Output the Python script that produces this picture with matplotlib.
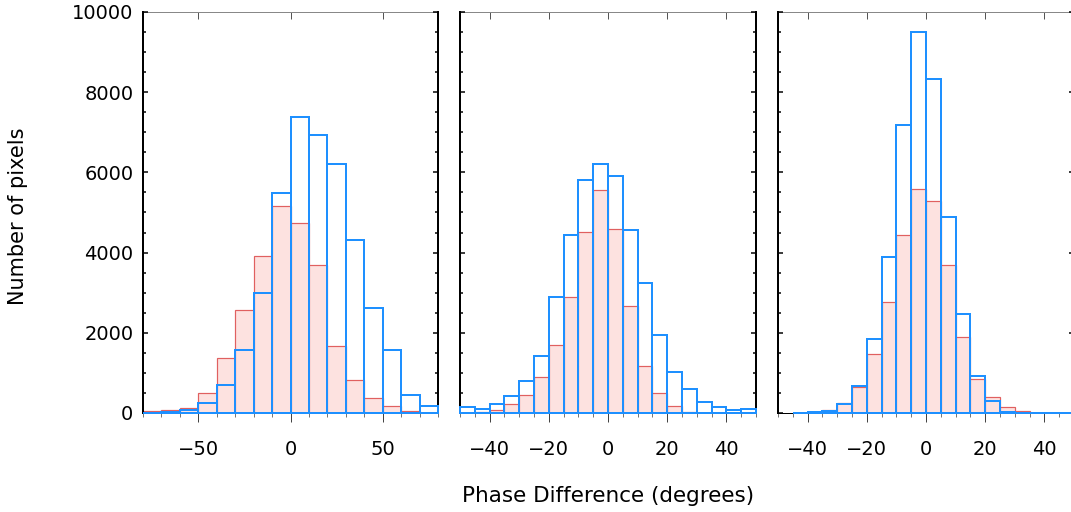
import numpy as np
import matplotlib
matplotlib.use("Agg")
import matplotlib.pyplot as plt
from matplotlib.ticker import MultipleLocator

# panel 1: bins of 10 deg from -80 to 80
edges1 = np.arange(-80, 81, 10)
red1 = [40, 80, 125, 490, 1370, 2570, 3920, 5170, 4750, 3690, 1670, 820, 370, 180, 50, 10]
blue1 = [10, 20, 80, 240, 690, 1570, 2990, 5490, 7370, 6940, 6210, 4310, 2620, 1570, 460, 170]

# panel 2: bins of 5 deg from -50 to 50
edges2 = np.arange(-50, 51, 5)
red2 = [10, 20, 75, 215, 450, 900, 1700, 2890, 4525, 5550,
        4590, 2660, 1170, 500, 180, 32, 10, 0, 0, 0]
blue2 = [157, 100, 225, 415, 800, 1425, 2890, 4430, 5800, 6220,
         5910, 4570, 3230, 1950, 1025, 607, 282, 157, 65, 90]

# panel 3: bins of 5 deg from -45 to 50
edges3 = np.arange(-45, 51, 5)
red3 = [10, 20, 75, 240, 640, 1480, 2780, 4430, 5590,
        5275, 3680, 1900, 850, 390, 157, 40, 10, 0, 0]
blue3 = [10, 20, 40, 225, 665, 1840, 3900, 7180, 9500,
         8330, 4880, 2475, 925, 307, 33, 10, 0, 0, 0]

panels = [
    (edges1, red1, blue1, (-80, 80), 50, 10),
    (edges2, red2, blue2, (-50, 50), 20, 5),
    (edges3, red3, blue3, (-50, 50), 20, 5),
]

plt.rcParams['font.family'] = ['DejaVu Sans']

fig = plt.figure(figsize=(10.71, 5.12), dpi=100)
lefts = [143, 460, 778]
widths = [295, 296, 296]
px = 0.72  # one pixel in points

for i, (edges, red, blue, xlim, major, minor) in enumerate(panels):
    ax = fig.add_axes([lefts[i] / 1071, 99 / 512, widths[i] / 1071, 401 / 512])
    w = edges[1] - edges[0]
    ax.bar(edges[:-1], red, width=w, align='edge', color='#fde2e0',
           edgecolor='#e06060', linewidth=1.2 * px, zorder=2)
    ax.bar(edges[:-1], blue, width=w, align='edge', fill=False,
           edgecolor='#1e90ff', linewidth=2 * px, zorder=3, clip_on=False)
    ax.set_xlim(*xlim)
    ax.set_ylim(0, 10000)

    ax.xaxis.set_major_locator(MultipleLocator(major))
    ax.xaxis.set_minor_locator(MultipleLocator(minor))
    ax.yaxis.set_major_locator(MultipleLocator(2000))
    ax.yaxis.set_minor_locator(MultipleLocator(500))

    ax.tick_params(axis='x', which='both', bottom=True, top=False, direction='out',
                   width=px, labelsize=14, pad=13)
    ax.tick_params(axis='x', which='major', length=9 * px, color='#444444')
    ax.tick_params(axis='x', which='minor', length=4 * px, color='#777777')
    ax.tick_params(axis='y', which='both', left=True, right=True, direction='in',
                   color='black', width=1.5 * px, labelsize=14, pad=7)
    ax.tick_params(axis='y', which='major', length=5 * px)
    ax.tick_params(axis='y', which='minor', length=3 * px)

    top = ax.secondary_xaxis('top')
    top.xaxis.set_major_locator(MultipleLocator(major))
    top.tick_params(direction='in', length=7 * px, width=px, color='#555555',
                    labeltop=False)
    top.spines['top'].set_color('#888888')
    top.spines['top'].set_linewidth(px)
    ax.spines['top'].set_visible(False)

    ax.spines['left'].set_linewidth(2 * px)
    ax.spines['right'].set_linewidth(2 * px)
    ax.spines['bottom'].set_linewidth(px)

    if i > 0:
        ax.set_yticklabels([])

fig.text(18 / 1071, 1 - 216 / 512, "Number of pixels", rotation=90,
         ha='center', va='center', fontsize=15)
fig.text(608 / 1071, 1 - 496 / 512, "Phase Difference (degrees)",
         ha='center', va='center', fontsize=15.5)

fig.savefig("out.png", dpi=100)
